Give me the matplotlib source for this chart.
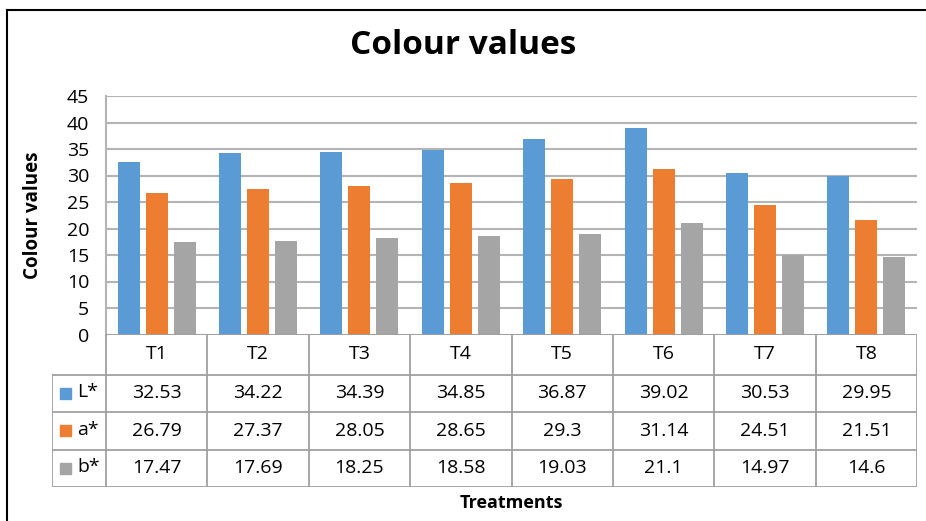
import matplotlib
matplotlib.use('Agg')
from matplotlib import pyplot as plt
from matplotlib.patches import Rectangle
import numpy as np

plt.rcParams['font.family'] = ['Open Sans', 'DejaVu Sans']

treatments = ['T1', 'T2', 'T3', 'T4', 'T5', 'T6', 'T7', 'T8']
series_names = ['L*', 'a*', 'b*']
L_vals = [32.53, 34.22, 34.39, 34.85, 36.87, 39.02, 30.53, 29.95]
a_vals = [26.79, 27.37, 28.05, 28.65, 29.3, 31.14, 24.51, 21.51]
b_vals = [17.47, 17.69, 18.25, 18.58, 19.03, 21.1, 14.97, 14.6]
y_ticks = [0, 5, 10, 15, 20, 25, 30, 35, 40, 45]

colors = ['#5B9BD5', '#ED7D31', '#A5A5A5']
grid_col = '#B4B4B4'
W, H = 926, 521

fig = plt.figure(figsize=(9.26, 5.21), dpi=100)

# outer frame (only top and left visible in the crop)
fig.add_artist(plt.Line2D([7 / W, 7 / W], [0, 1 - 10 / H], color='black', lw=1.5))
fig.add_artist(plt.Line2D([7 / W, 1], [1 - 10 / H, 1 - 10 / H], color='black', lw=1.5))

x0, x1 = 106, 917
ax = fig.add_axes([x0 / W, 1 - 334.5 / H, (x1 - x0) / W, 238.5 / H])
x = np.arange(len(treatments))
bw = 0.217
step = 0.276
for i, vals in enumerate([L_vals, a_vals, b_vals]):
    ax.bar(x + (i - 1) * step, vals, width=bw, color=colors[i], zorder=3)

ax.set_xlim(-0.5, len(treatments) - 0.5)
ax.set_ylim(0, 45)
ax.set_yticks(y_ticks)
ax.tick_params(axis='y', length=0, labelsize=14, pad=12)
ax.set_xticks([])
for t in y_ticks:
    ax.axhline(t, color=grid_col, lw=1.5, zorder=1)
for s in ['top', 'right', 'bottom']:
    ax.spines[s].set_visible(False)
ax.spines['left'].set_color(grid_col)
ax.spines['left'].set_linewidth(1.5)
ax.set_ylabel('Colour values', fontsize=13.5, fontweight='bold')
ax.yaxis.set_label_coords(-(106 - 43) / (x1 - x0), 0.5)

# data table below the plot
cat_px = (x1 - x0) / len(treatments)
left_px = 52
tab = fig.add_axes([left_px / W, 1 - 487 / H, (x1 - left_px) / W, (487 - 334) / H])
tab.set_xlim(-0.5 - (x0 - left_px) / cat_px, len(treatments) - 0.5)
tab.set_ylim(487, 334)
tab.axis('off')
row_edges = [334, 375, 412, 450, 487]
lkw = dict(color='#A0A0A0', lw=1.3)
xl = -0.5 - (x0 - left_px) / cat_px
# horizontal lines
tab.plot([-0.5, len(treatments) - 0.5], [row_edges[0]] * 2, **lkw)
for yy in row_edges[1:]:
    tab.plot([xl, len(treatments) - 0.5], [yy, yy], **lkw)
# vertical lines
tab.plot([xl, xl], [row_edges[1], row_edges[-1]], **lkw)
for k in range(len(treatments) + 1):
    tab.plot([k - 0.5, k - 0.5], [row_edges[0], row_edges[-1]], **lkw)

for k, t in enumerate(treatments):
    tab.text(k, (row_edges[0] + row_edges[1]) / 2, t, ha='center', va='center', fontsize=14)
for r, vals in enumerate([L_vals, a_vals, b_vals]):
    yc = (row_edges[r + 1] + row_edges[r + 2]) / 2
    for k, v in enumerate(vals):
        tab.text(k, yc, f'{v:g}', ha='center', va='center', fontsize=14)
    sq = 11 / cat_px
    tab.add_patch(Rectangle((xl + 8 / cat_px, yc - 5.5), sq, 11, color=colors[r], clip_on=False))
    tab.text(xl + 25 / cat_px, yc - 1, series_names[r], ha='left', va='center', fontsize=14)

fig.text(463 / W, 1 - 46 / H, 'Colour values', ha='center', va='center', fontsize=24, fontweight='bold')
fig.text(511 / W, 1 - 503 / H, 'Treatments', ha='center', va='center', fontsize=13, fontweight='bold')

fig.savefig('out.png', dpi=100)
